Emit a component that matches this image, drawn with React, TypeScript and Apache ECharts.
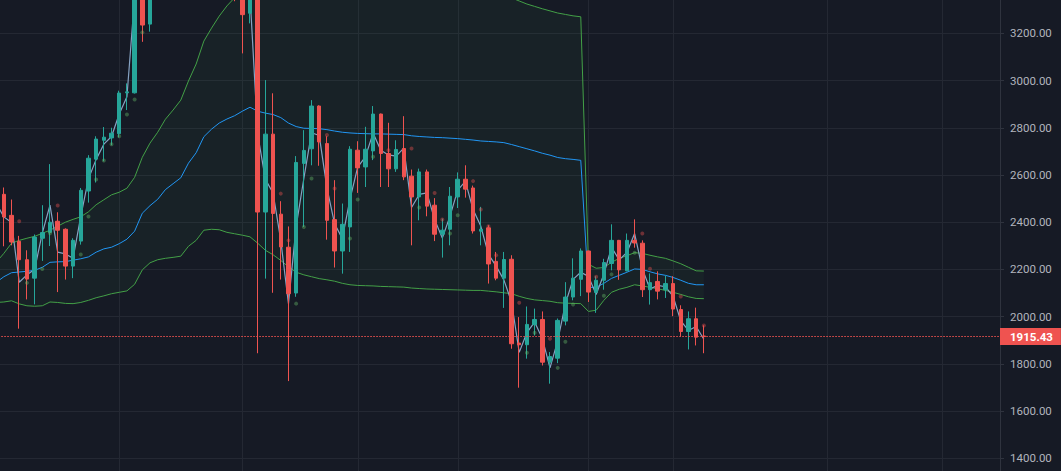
import React, { useEffect, useRef } from "react";
import * as echarts from "echarts";

// Bar 0 is a bar just off the left edge; bars 1..92 are the visible ones.
const categories: string[] = Array.from({ length: 131 }, (_, i) => "B" + i);

const opens = [
  2450,
  2518, 2429, 2319, 2241, 2163, 2332, 2357, 2404, 2370, 2214,
  2320, 2532, 2667, 2747, 2757, 2775, 2948, 2948, 3560, 3239,
  3520, 3700, 3820, 3760, 3900, 3850, 3720, 3800, 3650, 3560,
  3600, 3450, 3285, 3420, 2443, 2773, 2434, 2294, 2100, 2649,
  2711, 2892, 2733, 2411, 2278, 2380, 2705, 2634, 2702, 2858,
  2691, 2626, 2712, 2595, 2507, 2613, 2472, 2349, 2370, 2507,
  2582, 2545, 2362, 2376, 2234, 2163, 2243, 1888, 1881, 1966,
  1988, 1807, 1824, 1981, 2083, 2158, 2278, 2103, 2154, 2225,
  2323, 2194, 2323, 2311, 2114, 2149, 2114, 2140, 2030, 1937,
  1991, 1918,
];
const highs = [
  2560,
  2547, 2496, 2342, 2281, 2348, 2472, 2646, 2442, 2374, 2332,
  2545, 2684, 2764, 2803, 2800, 2957, 2988, 3760, 3620, 3560,
  3760, 3880, 3900, 3960, 3990, 3900, 3860, 3840, 3700, 3650,
  3640, 3620, 3482, 3700, 3002, 2946, 2489, 2382, 2680, 2790,
  2917, 2895, 2764, 2578, 2479, 2722, 2743, 2804, 2892, 2860,
  2821, 2747, 2849, 2623, 2627, 2623, 2502, 2415, 2549, 2611,
  2641, 2555, 2465, 2387, 2274, 2274, 2260, 1998, 2043, 2034,
  2022, 1850, 1992, 2146, 2247, 2289, 2279, 2171, 2245, 2391,
  2325, 2352, 2412, 2323, 2183, 2192, 2174, 2171, 2048, 2022,
  2038, 1963,
];
const lows = [
  2400,
  2298, 2302, 1949, 2073, 2052, 2236, 2299, 2104, 2157, 2163,
  2305, 2483, 2568, 2658, 2726, 2759, 2875, 2945, 3164, 3207,
  3480, 3650, 3700, 3720, 3780, 3680, 3690, 3600, 3500, 3480,
  3336, 3115, 3242, 1845, 2161, 2101, 2157, 1727, 2084, 2380,
  2641, 2639, 2326, 2208, 2182, 2274, 2524, 2549, 2663, 2549,
  2549, 2613, 2578, 2302, 2408, 2425, 2320, 2250, 2302, 2460,
  2504, 2352, 2302, 2140, 2154, 2037, 1864, 1699, 1822, 1920,
  1793, 1716, 1803, 1963, 2069, 2087, 2062, 2016, 2114, 2196,
  2156, 2192, 2292, 2083, 2051, 2073, 2079, 2002, 1916, 1861,
  1878, 1845,
];
const closes = [
  2520,
  2422, 2316, 2241, 2159, 2337, 2356, 2400, 2366, 2214, 2323,
  2535, 2671, 2752, 2760, 2777, 2947, 2952, 3600, 3235, 3520,
  3700, 3820, 3760, 3900, 3850, 3720, 3800, 3650, 3560, 3600,
  3450, 3279, 3420, 2443, 2773, 2437, 2295, 2097, 2653, 2704,
  2892, 2740, 2408, 2278, 2391, 2709, 2630, 2709, 2858, 2691,
  2626, 2708, 2592, 2507, 2613, 2468, 2349, 2366, 2510, 2582,
  2540, 2363, 2370, 2223, 2163, 2242, 1885, 1881, 1967, 1988,
  1807, 1831, 1984, 2083, 2163, 2278, 2104, 2154, 2229, 2323,
  2198, 2323, 2312, 2114, 2144, 2108, 2140, 2032, 1937, 1991,
  1913, 1915.43,
];

const upperBand = [
  2230,
  2268, 2311, 2323, 2332, 2340, 2353, 2366, 2383, 2400, 2412,
  2423, 2444, 2474, 2495, 2516, 2527, 2544, 2590, 2675, 2735,
  2781, 2836, 2875, 2917, 2998, 3070, 3167, 3222, 3273, 3316,
  3351, 3395, 3436, 3429, 3443, 3450, 3448, 3429, 3422, 3419,
  3425, 3431, 3428, 3422, 3421, 3421, 3420, 3419, 3418, 3420,
  3419, 3418, 3417, 3411, 3407, 3405, 3402, 3401, 3398, 3395,
  3390, 3385, 3377, 3376, 3375, 3373, 3350, 3337, 3324, 3314,
  3304, 3295, 3286, 3280, 3274, 3270, 2222, 2205, 2208, 2230,
  2247, 2258, 2271, 2268, 2260, 2253, 2247, 2236, 2224, 2209,
  2194, 2193,
];
const midBand = [
  2145,
  2169, 2186, 2189, 2192, 2196, 2209, 2230, 2232, 2233, 2239,
  2245, 2253, 2273, 2287, 2294, 2309, 2328, 2362, 2438, 2470,
  2497, 2538, 2563, 2588, 2650, 2694, 2762, 2794, 2820, 2837,
  2851, 2870, 2887, 2870, 2862, 2856, 2843, 2820, 2805, 2798,
  2797, 2796, 2792, 2786, 2781, 2778, 2776, 2775, 2774, 2774,
  2773, 2772, 2771, 2766, 2763, 2761, 2759, 2758, 2756, 2754,
  2751, 2748, 2744, 2742, 2740, 2737, 2729, 2720, 2711, 2702,
  2692, 2684, 2674, 2669, 2666, 2662, 2124, 2124, 2141, 2162,
  2175, 2188, 2202, 2200, 2190, 2181, 2175, 2166, 2154, 2141,
  2135, 2135,
];
const lowerBand = [
  2060,
  2062, 2067, 2054, 2046, 2044, 2046, 2062, 2060, 2056, 2055,
  2060, 2069, 2080, 2088, 2097, 2103, 2109, 2137, 2198, 2228,
  2241, 2247, 2251, 2256, 2298, 2323, 2366, 2370, 2368, 2357,
  2351, 2345, 2338, 2311, 2281, 2262, 2238, 2211, 2188, 2177,
  2169, 2161, 2156, 2150, 2141, 2135, 2132, 2131, 2130, 2128,
  2127, 2126, 2125, 2121, 2119, 2117, 2116, 2115, 2114, 2113,
  2112, 2111, 2111, 2108, 2105, 2101, 2097, 2086, 2077, 2071,
  2068, 2065, 2059, 2057, 2056, 2055, 2022, 2027, 2069, 2103,
  2116, 2124, 2135, 2130, 2124, 2118, 2111, 2103, 2094, 2084,
  2077, 2076,
];

// [bar, price]
const sarBelow = [
  [4, 2143], [6, 2202], [7, 2353], [11, 2263], [12, 2424], [13, 2581], [14, 2661],
  [15, 2730], [16, 2764], [17, 2856], [18, 2920], [19, 3204], [39, 2055], [40, 2380],
  [41, 2585], [46, 2331], [47, 2496], [49, 2677], [55, 2462], [59, 2352], [60, 2429],
  [69, 1847], [70, 1932], [73, 1783], [74, 1894], [75, 2051], [79, 2088], [80, 2179],
  [83, 2271],
];
const sarAbove = [
  [3, 2404], [8, 2471], [37, 2521], [38, 2323], [43, 2769], [44, 2543], [51, 2705],
  [54, 2712], [57, 2524], [58, 2411], [62, 2574], [63, 2454], [64, 2383], [65, 2260],
  [68, 2059], [72, 1906], [78, 2169], [84, 2352], [85, 2203], [89, 2085], [92, 1962],
];

const timeGridBars = [16, 32, 47, 60, 77, 88, 108, 123];
const yTicks = { min: 1200, max: 3400, step: 200 };
const lastPrice = 1915.43;

const BG = "#161a25";
const GRID = "#242833";
const UP = "#26a69a";
const DOWN = "#ef5350";
const BAND_GREEN = "#43a047";
const MID_BLUE = "#2196f3";

export default function App() {
  const ref = useRef<HTMLDivElement>(null);

  useEffect(() => {
    if (!ref.current) return;
    const chart = echarts.init(ref.current, undefined, { renderer: "svg" });

    const candleData = opens.map((o, i) => [o, closes[i], lows[i], highs[i]]);
    const hl2 = highs.map((h, i) => (h + lows[i]) / 2);
    const bandWidth = upperBand.map((u, i) => u - lowerBand[i]);

    const option: any = {
      animation: false,
      backgroundColor: BG,
      grid: {
        left: 0.308,
        right: 61,
        top: 0.1,
        bottom: 0.5,
        containLabel: false,
        outerBoundsMode: "none",
      },
      xAxis: {
        type: "category",
        data: categories,
        boundaryGap: true,
        axisLine: { show: false },
        axisTick: { show: false },
        axisLabel: { show: false },
        splitLine: { show: false },
      },
      yAxis: {
        type: "value",
        position: "right",
        min: yTicks.min,
        max: yTicks.max,
        interval: yTicks.step,
        axisLine: { show: true, lineStyle: { color: "#2f333e", width: 1 } },
        axisTick: { show: true, length: 4, lineStyle: { color: "#2f333e" } },
        axisLabel: {
          color: "#b2b5be",
          fontSize: 11.5,
          fontFamily: "Roboto",
          margin: 10,
          showMinLabel: false,
          showMaxLabel: false,
          formatter: (v: number) => v.toFixed(2),
        },
        splitLine: { show: true, lineStyle: { color: GRID, width: 1 } },
      },
      series: [
        {
          type: "custom",
          name: "timegrid",
          silent: true,
          z: 0,
          data: timeGridBars.map((b) => [b]),
          encode: { x: 0 },
          renderItem: (params: any, api: any) => {
            const x = Math.round(api.coord([api.value(0), 2000])[0]) + 0.5;
            const cs = params.coordSys;
            return {
              type: "line",
              shape: { x1: x, y1: cs.y, x2: x, y2: cs.y + cs.height },
              style: { stroke: GRID, lineWidth: 1 },
            };
          },
        },
        {
          type: "line",
          name: "bandBase",
          data: lowerBand,
          stack: "bb",
          symbol: "none",
          silent: true,
          lineStyle: { opacity: 0 },
          z: 1,
        },
        {
          type: "line",
          name: "bandFill",
          data: bandWidth,
          stack: "bb",
          symbol: "none",
          silent: true,
          lineStyle: { opacity: 0 },
          areaStyle: { color: "rgba(76,175,80,0.06)", opacity: 1 },
          z: 1,
        },
        {
          type: "line",
          name: "upper",
          data: upperBand,
          symbol: "none",
          silent: true,
          lineStyle: { color: BAND_GREEN, width: 1 },
          z: 2,
        },
        {
          type: "line",
          name: "basis",
          data: midBand,
          symbol: "none",
          silent: true,
          lineStyle: { color: MID_BLUE, width: 1 },
          z: 2,
        },
        {
          type: "line",
          name: "lower",
          data: lowerBand,
          symbol: "none",
          silent: true,
          lineStyle: { color: BAND_GREEN, width: 1 },
          z: 2,
        },
        {
          type: "line",
          name: "hl2",
          data: hl2,
          symbol: "none",
          silent: true,
          lineStyle: { color: "#86a3c3", width: 1.2 },
          z: 3,
        },
        {
          type: "candlestick",
          name: "price",
          data: candleData,
          barWidth: 4,
          z: 4,
          itemStyle: {
            color: UP,
            color0: DOWN,
            borderColor: UP,
            borderColor0: DOWN,
            borderWidth: 1,
          },
          markLine: {
            silent: true,
            symbol: ["none", "none"],
            animation: false,
            data: [{ yAxis: lastPrice }],
            lineStyle: { color: DOWN, type: [1.5, 1.5], width: 1, opacity: 1 },
            label: {
              show: true,
              position: "end",
              distance: 0,
              formatter: lastPrice.toFixed(2),
              color: "#ffffff",
              backgroundColor: DOWN,
              fontFamily: "Roboto",
              fontSize: 11.5,
              fontWeight: "bold",
              padding: [3, 8, 2, 10],
            },
          },
        },
        {
          type: "scatter",
          name: "sarBelow",
          data: sarBelow,
          symbol: "circle",
          symbolSize: 4,
          silent: true,
          itemStyle: { color: "rgba(102,187,106,0.5)" },
          z: 5,
        },
        {
          type: "scatter",
          name: "sarAbove",
          data: sarAbove,
          symbol: "circle",
          symbolSize: 4,
          silent: true,
          itemStyle: { color: "rgba(239,83,80,0.5)" },
          z: 5,
        },
      ],
    };

    chart.setOption(option);
    return () => chart.dispose();
  }, []);

  return (
    <div style={{ position: "fixed", left: 0, top: 0, width: 1061, height: 471, overflow: "hidden", background: BG }}>
      <div
        ref={ref}
        style={{ position: "absolute", left: -8, top: -14, width: 1069, height: 520 }}
      />
    </div>
  );
}
